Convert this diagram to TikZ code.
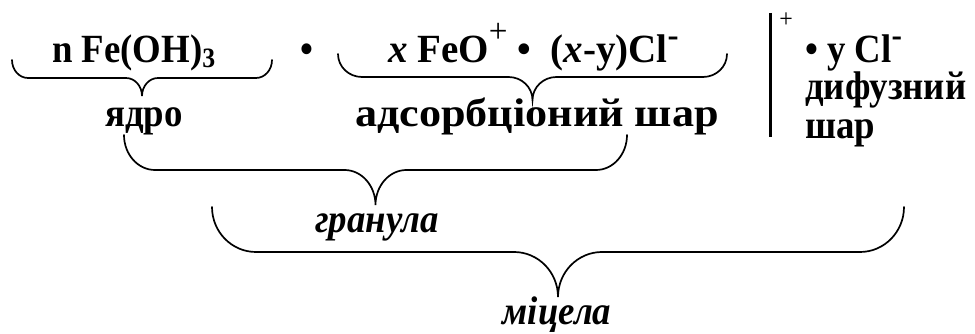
\documentclass[tikz,border=0pt]{standalone}
\usepackage{fontspec}
\setmainfont{Liberation Serif}[FakeStretch=0.92]
\usepackage{tikz}
\usetikzlibrary{positioning,calc}
\newcommand{\bigtext}{\fontsize{40}{44}\selectfont}
\newcommand{\chargeup}[1]{\raisebox{20pt}{\fontsize{34}{34}\selectfont\mdseries #1}}
\newcommand{\ionminus}{\raisebox{16pt}{\fontsize{34}{34}\selectfont -}}
\newcommand{\lowthree}{\raisebox{-5pt}{\fontsize{28}{28}\selectfont 3}}
\tikzset{
  chem/.style={font=\bfseries\bigtext, inner sep=0pt, anchor=base west},
  lbl/.style={font=\bfseries\bigtext, inner sep=0pt, anchor=base},
  ilbl/.style={font=\bfseries\itshape\bigtext, inner sep=0pt, anchor=base},
  brace/.style={line width=1.7pt, line cap=round},
  wall/.style={line width=3pt},
}
% brace with round ends: x1, x2, top y, x radius, y radius
\newcommand{\wordbrace}[5]{%
  \pgfmathsetmacro{\bmid}{(#1+#2)/2}%
  \draw[brace] (#1,#3) arc[start angle=180, end angle=270, x radius=#4, y radius=#5]
    -- (\bmid-#4,#3-#5) arc[start angle=90, end angle=0, x radius=#4, y radius=#5]
    arc[start angle=180, end angle=90, x radius=#4, y radius=#5]
    -- (#2-#4,#3-#5) arc[start angle=270, end angle=360, x radius=#4, y radius=#5];}

\begin{document}
\begin{tikzpicture}[x=1pt, y=1pt]
  \useasboundingbox (0,0) rectangle (975,334);
  \node[chem] (core) at (52,271) {n Fe(OH)\lowthree};
  \node[chem] (dot) at (300,271) {•};
  \node[chem, xscale=1.06, transform shape] (adsorb) at (388,271) {\textit{x} FeO\chargeup{+}\ • \ (\textit{x}-y)Cl\ionminus};
  \coordinate (bartop) at (770,321);
  \coordinate (barbot) at (770,197);
  \draw[wall] (bartop) -- (barbot);
  \node[font=\fontsize{26}{28}\selectfont, inner sep=0pt] (charge) at (786,314) {+};
  \node[chem] (ions) at (805,271) {• y Cl\ionminus};
  \node[chem] (diffuse) at (805,234) {дифузний};
  \node[chem] (layer) at (805,195) {шар};

  \wordbrace{12}{272}{274}{16}{18}
  \node[lbl] (nucleus) at (144,207) {ядро};
  \wordbrace{338}{727}{280}{24}{23}
  \node[lbl, xscale=1.2, transform shape] (adslayer) at (537,207) {адсорбціоний шар};
  \wordbrace{124}{627}{199}{31}{35}
  \node[ilbl] (granule) at (377,101) {гранула};
  \wordbrace{212}{904}{127}{44}{45}
  \node[ilbl] (micelle) at (557,9) {міцела};
\end{tikzpicture}
\end{document}
